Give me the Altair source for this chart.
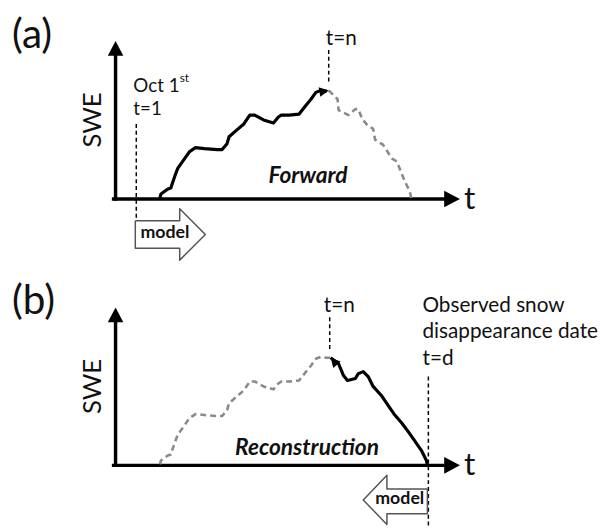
import altair as alt
import pandas as pd

FONT = "Lato"

# ---------------- data (schematic units) ----------------
# t   : horizontal distance from the SWE axis
# swe : height above the t axis
acc_t = [45, 46, 53, 56, 60, 63, 68, 75, 81, 90, 103, 108, 113, 115, 123, 130, 136,
         141, 150, 160, 165, 168, 176, 186, 193, 198, 203, 208, 214]
acc_swe = [1, 5, 10, 11, 23, 31, 38, 48, 52, 51, 50, 50, 56, 63, 70, 76, 85,
           85, 80, 77, 83, 85, 85, 86, 95, 101, 108, 110, 109]

fwd_melt_t = [216, 225, 226, 236, 243, 246, 250, 255, 261, 263, 271, 280, 285, 293, 298, 300]
fwd_melt_swe = [110, 101, 90, 85, 91, 91, 81, 75, 71, 60, 55, 41, 38, 18, 8, 0]

rec_melt_t = [218, 226, 231, 235, 243, 246, 251, 256, 261, 270, 276, 283, 290, 296, 303, 310, 315, 316]
rec_melt_swe = [109, 103, 91, 86, 88, 93, 95, 90, 80, 70, 61, 51, 43, 35, 25, 15, 5, 0]

# axis extents
T_AXIS_TIP = 349
SWE_AXIS_TIP = 160

# event markers
T_START = 21
T_PEAK = 217
T_DISAPPEAR = 317

# model arrows (outline vertices)
model_fwd_t = [20, 65, 65, 91, 65, 65, 20, 20]
model_fwd_swe = [-22, -22, -10, -36, -62, -50, -50, -22]
model_rec_t = [316, 275, 275, 251, 275, 275, 316, 316]
model_rec_swe = [-24, -24, -10, -35, -60, -49, -49, -24]

# view windows of each panel
T_DOMAIN = [-109, 497]
SWE_DOMAIN_A = [-72, 190]
SWE_DOMAIN_B = [-53, 198]

ARROW = "M0,0L-2,-1.05L-2,1.05Z"


def path_df(ts, ss):
    return pd.DataFrame({"t": ts, "swe": ss, "i": list(range(len(ts)))})


def build_panel(height, swe_domain, panel):
    xs = alt.Scale(domain=T_DOMAIN, nice=False, zero=False)
    ys = alt.Scale(domain=swe_domain, nice=False, zero=False)
    X = alt.X("t:Q", scale=xs, axis=None)
    Y = alt.Y("swe:Q", scale=ys, axis=None)
    X2 = alt.X2("t2:Q")
    Y2 = alt.Y2("swe2:Q")
    layers = []

    def line(ts, ss, color, width, dash=None):
        kw = dict(color=color, strokeWidth=width, strokeJoin="round", strokeCap="butt")
        if dash:
            kw["strokeDash"] = dash
        return alt.Chart(path_df(ts, ss)).mark_line(**kw).encode(x=X, y=Y, order="i:Q")

    def segs(rows, color, width, dash=None, cap="butt"):
        df = pd.DataFrame(rows, columns=["t", "swe", "t2", "swe2"])
        kw = dict(color=color, strokeWidth=width, strokeCap=cap)
        if dash:
            kw["strokeDash"] = dash
        return alt.Chart(df).mark_rule(**kw).encode(x=X, y=Y, x2=X2, y2=Y2)

    def heads(rows):
        df = pd.DataFrame(rows, columns=["t", "swe", "ang", "size"])
        return alt.Chart(df).mark_point(shape=ARROW, filled=True, color="black",
                                        opacity=1, strokeWidth=0).encode(
            x=X, y=Y, angle=alt.Angle("ang:Q", scale=None),
            size=alt.Size("size:Q", scale=None))

    def texts(rows, **kw):
        df = pd.DataFrame(rows, columns=["t", "swe", "label"])
        base = dict(font=FONT, color="#111111")
        base.update(kw)
        return alt.Chart(df).mark_text(**base).encode(x=X, y=Y, text="label:N")

    # axes
    layers.append(segs([[-2, 0, T_AXIS_TIP - 14, 0], [0, 0, 0, SWE_AXIS_TIP - 13]],
                       "black", 3.5, cap="square"))
    layers.append(heads([[T_AXIS_TIP, 0, 0, 256], [0, SWE_AXIS_TIP, 270, 225]]))

    if panel == "a":
        layers.append(line(fwd_melt_t, fwd_melt_swe, "#8a8a8a", 2.6, [6, 4]))
        layers.append(line(acc_t, acc_swe, "black", 3.2))
        layers.append(heads([[fwd_melt_t[0], fwd_melt_swe[0], 350, 90]]))
        layers.append(segs([[T_START, 76, T_START, -22], [T_PEAK - 1, 151, T_PEAK - 1, 116]],
                           "black", 1.5, [4, 3]))
        layers.append(line(model_fwd_t, model_fwd_swe, "#555555", 1.5))
        layers.append(texts([[-105, 165, "(a)"]], fontSize=41, align="left", baseline="middle"))
        layers.append(texts([[18, 108, "Oct 1"], [18, 85, "t=1"]],
                            fontSize=19, align="left", baseline="alphabetic"))
        layers.append(texts([[213, 156, "t=n"]],
                            fontSize=21, align="left", baseline="alphabetic"))
        layers.append(texts([[65, 118, "st"]], fontSize=12, align="left", baseline="alphabetic"))
        layers.append(texts([[195, 16, "Forward"]], fontSize=23, align="center",
                            baseline="alphabetic", fontWeight="bold", fontStyle="italic"))
        layers.append(texts([[50, -35, "model"]], fontSize=18, align="center",
                            baseline="middle", fontWeight="bold"))
    else:
        layers.append(line(acc_t + [rec_melt_t[0]], acc_swe + [rec_melt_swe[0]], "#8a8a8a", 2.6, [6, 4]))
        layers.append(line(rec_melt_t, rec_melt_swe, "black", 3.2))
        layers.append(heads([[rec_melt_t[0], rec_melt_swe[0], 228, 90]]))
        layers.append(segs([[T_PEAK, 150, T_PEAK, 115], [T_DISAPPEAR, 90, T_DISAPPEAR, -61]],
                           "black", 1.5, [4, 3]))
        layers.append(line(model_rec_t, model_rec_swe, "#555555", 1.5))
        layers.append(texts([[-105, 165, "(b)"]], fontSize=41, align="left", baseline="middle"))
        layers.append(texts([[211, 155, "t=n"], [311, 155, "Observed snow"],
                             [311, 129, "disappearance date"], [311, 102, "t=d"]],
                            fontSize=21, align="left", baseline="alphabetic"))
        layers.append(texts([[194, 11, "Reconstruction"]], fontSize=23, align="center",
                            baseline="alphabetic", fontWeight="bold", fontStyle="italic"))
        layers.append(texts([[288, -34, "model"]], fontSize=18, align="center",
                            baseline="middle", fontWeight="bold"))

    layers.append(texts([[-23, 80, "SWE"]], fontSize=26, align="center", baseline="middle", angle=270))
    layers.append(texts([[353, -10, "t"]], fontSize=32, align="left", baseline="alphabetic"))

    return alt.layer(*layers).properties(width=606, height=height)


panel_a = build_panel(262, SWE_DOMAIN_A, "a")
panel_b = build_panel(251, SWE_DOMAIN_B, "b")

chart = alt.vconcat(panel_a, panel_b, spacing=0).properties(
    padding=0, background="white"
).configure_view(stroke=None)

chart.save("out.html", embed_options={"renderer": "svg", "actions": False})
